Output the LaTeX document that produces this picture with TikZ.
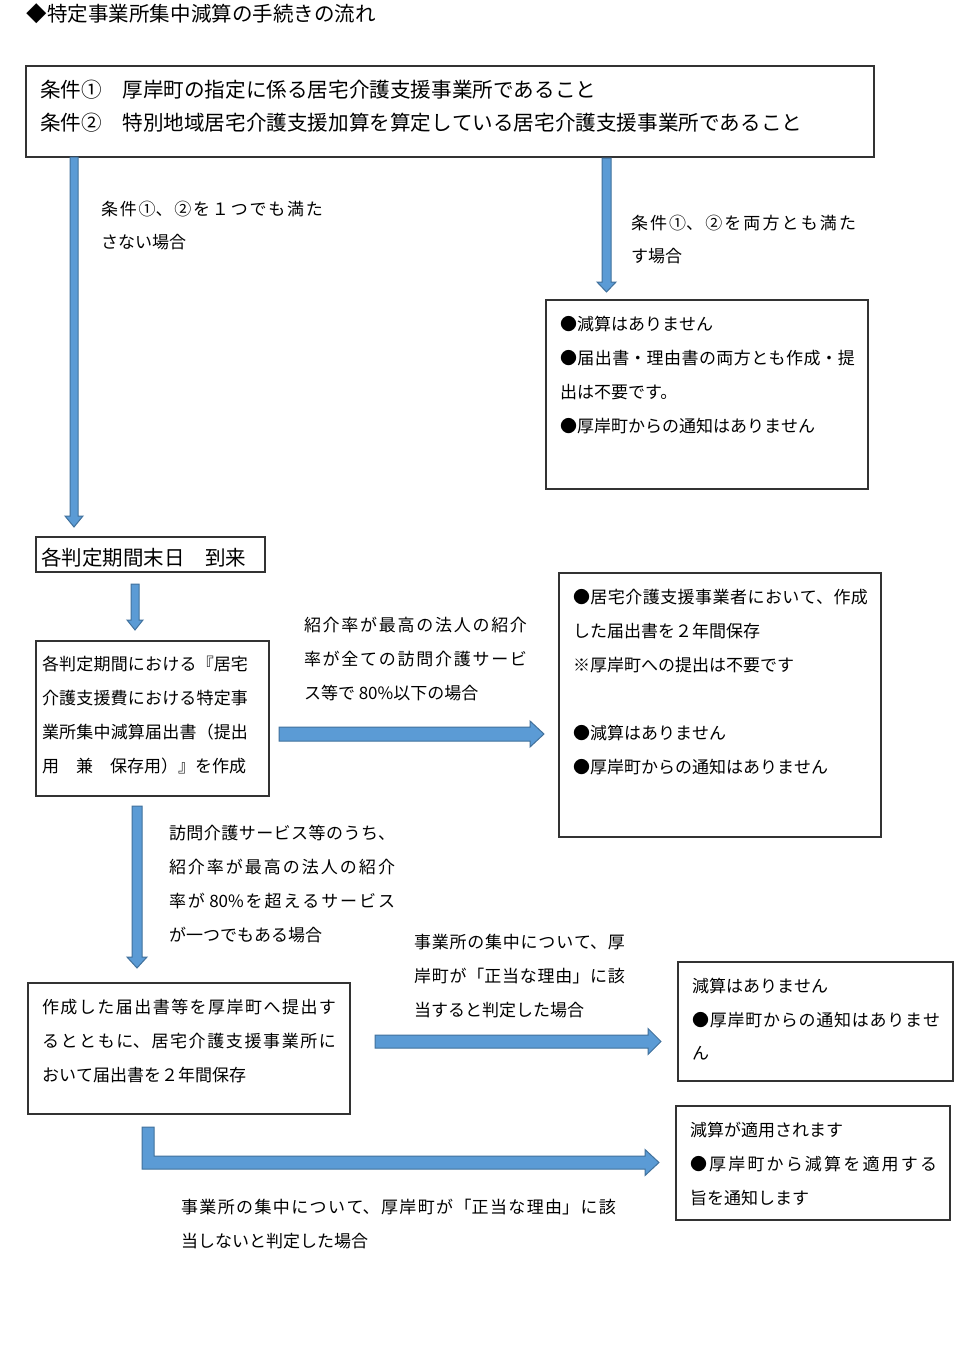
\documentclass[tikz,border=0pt]{standalone}
\usepackage{fontspec}
\setmainfont{Noto Sans CJK JP}
\usetikzlibrary{calc}
\XeTeXlinebreaklocale "ja"
\XeTeXlinebreakskip=0pt plus 6pt
\definecolor{arrowfill}{HTML}{5B9BD5}
\definecolor{arrowline}{HTML}{41719C}
\definecolor{boxline}{HTML}{333333}
\tikzset{
  boxframe/.style={draw=boxline, line width=1.4pt, anchor=north west, inner sep=0pt, outer sep=0pt},
  txt/.style={anchor=base west, inner sep=0pt, outer sep=0pt, align=justify, font=\fontsize{17}{34}\selectfont},
  bigtxt/.style={anchor=base west, inner sep=0pt, outer sep=0pt, align=left, font=\fontsize{20.5}{33}\selectfont},
  blockarrow/.style={fill=arrowfill, draw=arrowline, line width=1pt, line join=miter}
}
% #1 from, #2 to, #3 half shaft, #4 half head, #5 head length
\newcommand\blockdown[5]{%
  \path[blockarrow] let \p1=(#1), \p2=(#2) in
   (\x1-#3pt,\y1) -- (\x1+#3pt,\y1) -- (\x1+#3pt,\y2+#5pt) -- (\x1+#4pt,\y2+#5pt) -- (\x1,\y2) -- (\x1-#4pt,\y2+#5pt) -- (\x1-#3pt,\y2+#5pt) -- cycle;}
\newcommand\blockright[5]{%
  \path[blockarrow] let \p1=(#1), \p2=(#2) in
   (\x1,\y1+#3pt) -- (\x2-#5pt,\y1+#3pt) -- (\x2-#5pt,\y1+#4pt) -- (\x2,\y1) -- (\x2-#5pt,\y1-#4pt) -- (\x2-#5pt,\y1-#3pt) -- (\x1,\y1-#3pt) -- cycle;}
\begin{document}
\begin{tikzpicture}[x=1pt,y=-1pt]
\useasboundingbox (0,0) rectangle (960,1370);
\fill[white] (0,0) rectangle (960,1370);

% title
\node[bigtxt] (title) at (27,21.8) {◆特定事業所集中減算の手続きの流れ};

% boxes
\node[boxframe, minimum width=848pt, minimum height=91pt] (b1) at (26,66) {};
\node[boxframe, minimum width=322pt, minimum height=189pt] (b2) at (546,300) {};
\node[boxframe, minimum width=229pt, minimum height=35pt] (b3) at (36,537) {};
\node[boxframe, minimum width=233pt, minimum height=155pt] (b4) at (36,641) {};
\node[boxframe, minimum width=322pt, minimum height=264pt] (b5) at (559,573) {};
\node[boxframe, minimum width=322pt, minimum height=131pt] (b6) at (28,983) {};
\node[boxframe, minimum width=275pt, minimum height=119pt] (b7) at (678,962) {};
\node[boxframe, minimum width=274pt, minimum height=114pt] (b8) at (676,1106) {};

% box texts
\node[txt, align=left, text width=840pt, font=\fontsize{20.6}{33}\selectfont] (t1) at (40,97.8) {条件①　厚岸町の指定に係る居宅介護支援事業所であること\\条件②　特別地域居宅介護支援加算を算定している居宅介護支援事業所であること};
\node[txt, text width=295pt] (t2) at (560,330.5) {●減算はありません\par ●届出書・理由書の両方とも作成・提\linebreak 出は不要です。\par ●厚岸町からの通知はありません};
\node[bigtxt] (t3) at (41,565.8) {各判定期間末日　到来};
\node[txt, text width=206pt] (t4) at (42,670.5) {各判定期間における『居宅\linebreak 介護支援費における特定事\linebreak 業所集中減算届出書（提出\linebreak 用　兼　保存用）』を作成};
\node[txt, text width=295pt] (t5) at (573,603.5) {●居宅介護支援事業者において、作成\linebreak した届出書を２年間保存\par ※厚岸町への提出は不要です\par\mbox{}\par ●減算はありません\par ●厚岸町からの通知はありません};
\node[txt, text width=294pt] (t6) at (42,1013.5) {作成した届出書等を厚岸町へ提出す\linebreak るとともに、居宅介護支援事業所に\linebreak おいて届出書を２年間保存};
\node[txt, text width=248pt, font=\fontsize{17}{33.5}\selectfont] (t7) at (692,992.5) {減算はありません\par ●厚岸町からの通知はありませ\linebreak ん};
\node[txt, text width=247pt] (t8) at (690,1136.5) {減算が適用されます\par ●厚岸町から減算を適用する\linebreak 旨を通知します};

% arrow labels
\node[txt, text width=222pt, font=\fontsize{17}{33}\selectfont] (l1) at (101,215.5) {条件①、②を１つでも満た\linebreak さない場合};
\node[txt, text width=225pt, font=\fontsize{17}{33}\selectfont] (l2) at (631,229.5) {条件①、②を両方とも満た\linebreak す場合};
\node[txt, text width=223pt] (l4) at (304,631.5) {紹介率が最高の法人の紹介\linebreak 率が全ての訪問介護サービ\linebreak ス等で 80\%以下の場合};
\node[txt, text width=226pt] (l5) at (169,839.5) {訪問介護サービス等のうち、\linebreak 紹介率が最高の法人の紹介\linebreak 率が 80\%を超えるサービス\linebreak が一つでもある場合};
\node[txt, text width=211pt] (l6) at (414,948.5) {事業所の集中について、厚\linebreak 岸町が「正当な理由」に該\linebreak 当すると判定した場合};
\node[txt, text width=435pt] (l7) at (181,1213.5) {事業所の集中について、厚岸町が「正当な理由」に該\linebreak 当しないと判定した場合};

% arrow end points
\coordinate (a1s) at (74,157);    \coordinate (a1e) at (74,527);
\coordinate (a2s) at (606.5,158); \coordinate (a2e) at (606.5,292);
\coordinate (a3s) at (135,584);   \coordinate (a3e) at (135,630);
\coordinate (a4s) at (279,734);   \coordinate (a4e) at (544,734);
\coordinate (a5s) at (137,806);   \coordinate (a5e) at (137,968);
\coordinate (a6s) at (375,1041.5);\coordinate (a6e) at (661,1041.5);
\coordinate (a7s) at (148,1127);  \coordinate (a7e) at (659,1162.5);

\blockdown{a1s}{a1e}{4}{9}{11}
\blockdown{a2s}{a2e}{4.5}{9.5}{10}
\blockdown{a3s}{a3e}{4}{8}{10}
\blockright{a4s}{a4e}{7}{13}{14}
\blockdown{a5s}{a5e}{5}{10}{11}
\blockright{a6s}{a6e}{6.5}{13}{13}
\path[blockarrow] let \p1=(a7s), \p2=(a7e) in
  (\x1-6pt,\y1) -- (\x1+6pt,\y1) -- (\x1+6pt,\y2+6.5pt) -- (\x2-14pt,\y2+6.5pt) -- (\x2-14pt,\y2+13pt) -- (\x2,\y2) -- (\x2-14pt,\y2-13pt) -- (\x2-14pt,\y2-6.5pt) -- (\x1-6pt,\y2-6.5pt) -- cycle;
\end{tikzpicture}
\end{document}
